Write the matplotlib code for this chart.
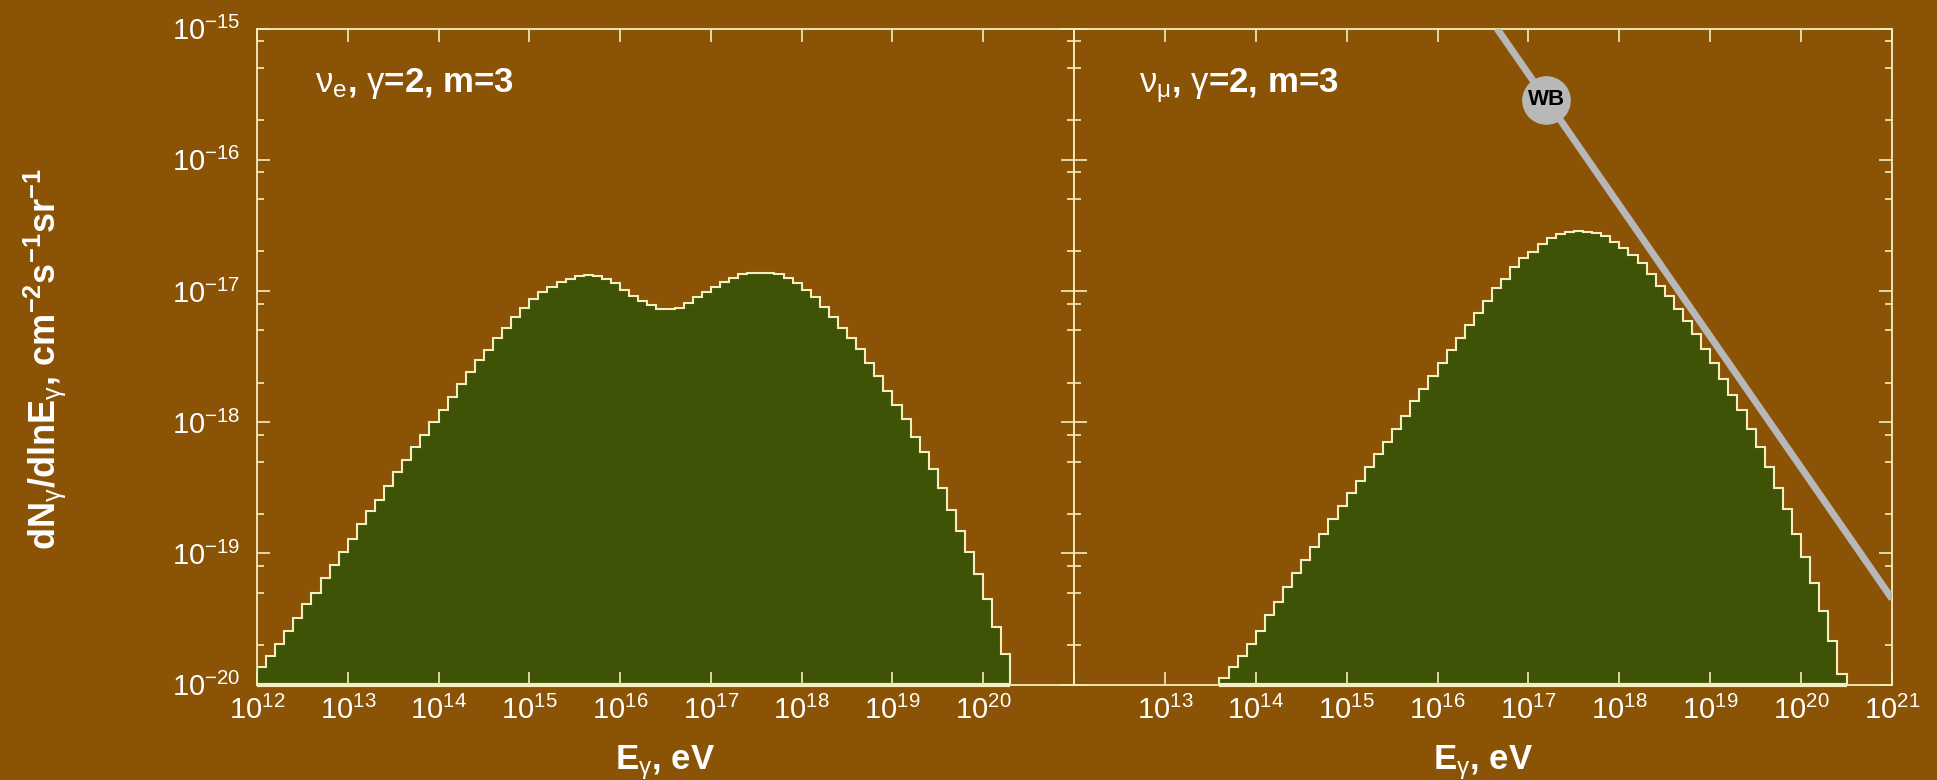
import numpy as np
import matplotlib
matplotlib.use("Agg")
import matplotlib.pyplot as plt
from matplotlib.ticker import FixedLocator, LogLocator, FuncFormatter, NullFormatter, NullLocator

# ---------------- data ----------------
bin_width_dex = 0.1

# nu_e spectrum: log10 of dN/dlnE per 0.1-dex bin, first bin starts at 1e12 eV
nue_first_edge_log10 = 12.0
nue_log10_flux = [
    -19.87, -19.78, -19.69, -19.59, -19.49, -19.39, -19.30, -19.19, -19.09, -18.99,
    -18.89, -18.78, -18.68, -18.59, -18.49, -18.38, -18.29, -18.19, -18.10, -18.00,
    -17.91, -17.81, -17.71, -17.62, -17.53, -17.45, -17.36, -17.28, -17.20, -17.13,
    -17.06, -17.01, -16.97, -16.93, -16.91, -16.89, -16.88, -16.89, -16.91, -16.94,
    -16.99, -17.04, -17.08, -17.11, -17.14, -17.14, -17.13, -17.09, -17.05, -17.01,
    -16.97, -16.93, -16.90, -16.87, -16.86, -16.86, -16.86, -16.87, -16.90, -16.94,
    -16.99, -17.05, -17.12, -17.20, -17.28, -17.36, -17.44, -17.55, -17.65, -17.76,
    -17.87, -17.98, -18.11, -18.23, -18.36, -18.50, -18.67, -18.83, -18.99, -19.16,
    -19.35, -19.56, -19.77,
]

# nu_mu spectrum, first bin starts at 10^13.6 eV
numu_first_edge_log10 = 13.6
numu_log10_flux = [
    -19.95, -19.87, -19.78, -19.69, -19.59, -19.47, -19.37, -19.26, -19.15, -19.05,
    -18.95, -18.85, -18.74, -18.64, -18.54, -18.45, -18.34, -18.24, -18.15, -18.05,
    -17.95, -17.84, -17.75, -17.65, -17.55, -17.45, -17.36, -17.26, -17.17, -17.08,
    -16.98, -16.91, -16.82, -16.75, -16.70, -16.64, -16.60, -16.57, -16.55, -16.54,
    -16.55, -16.56, -16.58, -16.63, -16.67, -16.73, -16.79, -16.87, -16.96, -17.04,
    -17.14, -17.23, -17.33, -17.44, -17.55, -17.67, -17.79, -17.91, -18.05, -18.19,
    -18.34, -18.50, -18.66, -18.85, -19.03, -19.23, -19.44, -19.67, -19.92,
]

# Waxman-Bahcall bound (straight line in log-log)
wb_energy = [4.5e16, 1.0e21]
wb_flux = [1.0e-15, 4.5e-20]
wb_label_energy = 1.57e17
wb_label_flux = 2.87e-16

panel_labels = [r"$\nu_e$, $\gamma$=2, m=3", r"$\nu_\mu$, $\gamma$=2, m=3"]
left_xlabel_exponents = list(range(12, 21))
right_xlabel_exponents = list(range(13, 22))
xtick_exponents = list(range(12, 22))
ytick_exponents = list(range(-20, -14))
x_range = (1e12, 1e21)
y_range = (1e-20, 1e-15)

# ---------------- style ----------------
BROWN = "#8b5305"
GREEN = "#3f5306"
CREAM = "#f4eec0"
GRAY = "#b8b8b8"

plt.rcParams["font.family"] = ["Liberation Sans", "DejaVu Sans"]
plt.rcParams["mathtext.fontset"] = "custom"
plt.rcParams["mathtext.rm"] = "Liberation Sans"
plt.rcParams["mathtext.it"] = "Liberation Sans:italic"
plt.rcParams["mathtext.bf"] = "Liberation Sans:bold"
plt.rcParams["mathtext.sf"] = "Liberation Sans"
plt.rcParams["mathtext.default"] = "rm"

W, H = 1937, 780
fig = plt.figure(figsize=(W / 100, H / 100), dpi=100, facecolor=BROWN)
axL = fig.add_axes([257 / W, 1 - 684.5 / H, 817 / W, 656 / H])
axR = fig.add_axes([1074 / W, 1 - 684.5 / H, 818 / W, 656 / H])


def exp_formatter(allowed):
    def f(v, pos):
        e = int(round(np.log10(v)))
        if e in allowed:
            return r"$\mathdefault{10^{%d}}$" % e
        return ""
    return FuncFormatter(f)


for ax in (axL, axR):
    ax.set_facecolor(BROWN)
    ax.set_xscale("log")
    ax.set_yscale("log")
    ax.set_xlim(*x_range)
    ax.set_ylim(*y_range)
    for s in ax.spines.values():
        s.set_color(CREAM)
        s.set_linewidth(1.3)
    ax.xaxis.set_major_locator(FixedLocator([10.0 ** e for e in xtick_exponents]))
    ax.xaxis.set_minor_locator(NullLocator())
    ax.yaxis.set_major_locator(FixedLocator([10.0 ** e for e in ytick_exponents]))
    ax.yaxis.set_minor_locator(LogLocator(base=10, subs=(2, 5, 8), numticks=30))
    ax.yaxis.set_minor_formatter(NullFormatter())
    ax.tick_params(which="both", direction="in", top=True, right=True,
                   color=CREAM, width=1.2, labelcolor="white", labelsize=21)
    ax.tick_params(which="major", length=9.5)
    ax.tick_params(which="minor", length=5)
    ax.tick_params(axis="x", pad=8)
    ax.tick_params(axis="y", pad=12)

axL.xaxis.set_major_formatter(exp_formatter(left_xlabel_exponents))
axR.xaxis.set_major_formatter(exp_formatter(right_xlabel_exponents))
axL.yaxis.set_major_formatter(exp_formatter(ytick_exponents))
axR.yaxis.set_major_formatter(NullFormatter())


def draw_hist(ax, first_edge, logs):
    vals = 10.0 ** np.asarray(logs)
    edges = 10.0 ** (first_edge + bin_width_dex * np.arange(len(vals) + 1))
    ax.stairs(vals, edges, baseline=y_range[0], fill=True, color=GREEN, lw=0, zorder=1)
    ax.stairs(vals, edges, baseline=y_range[0], fill=False, color=CREAM, lw=1.5, zorder=2)
    ax.plot([edges[0], edges[-1]], [y_range[0], y_range[0]], color=CREAM, lw=3,
            clip_on=False, zorder=2.6, solid_capstyle="butt")


draw_hist(axL, nue_first_edge_log10, nue_log10_flux)
draw_hist(axR, numu_first_edge_log10, numu_log10_flux)

# WB bound
axR.plot(wb_energy, wb_flux, color=GRAY, lw=5, solid_capstyle="butt", zorder=3)
axR.plot([wb_label_energy], [wb_label_flux], "o", ms=34, color=GRAY, mec=GRAY, zorder=4)
axR.text(wb_label_energy, wb_label_flux, "WB", color="black", fontsize=16,
         fontweight="bold", ha="center", va="center", zorder=5)

# panel labels
axL.text(0.071, 0.903, panel_labels[0], transform=axL.transAxes, color="white",
         fontsize=25, fontweight="bold", ha="left", va="baseline")
axR.text(0.079, 0.903, panel_labels[1], transform=axR.transAxes, color="white",
         fontsize=25, fontweight="bold", ha="left", va="baseline")

# axis labels
for ax in (axL, axR):
    ax.text(0.5, -0.13, r"E$_\gamma$, eV", transform=ax.transAxes, color="white",
            fontsize=25, fontweight="bold", ha="center", va="baseline")

fig.text(45 / W, 1 - 359 / H,
         r"dN$_\gamma$/dlnE$_\gamma$, cm$^{\mathbf{-2}}$s$^{\mathbf{-1}}$sr$^{\mathbf{-1}}$",
         rotation=90, color="white", fontsize=26, fontweight="bold",
         ha="center", va="center")

fig.savefig("out.png", dpi=100, facecolor=BROWN)
